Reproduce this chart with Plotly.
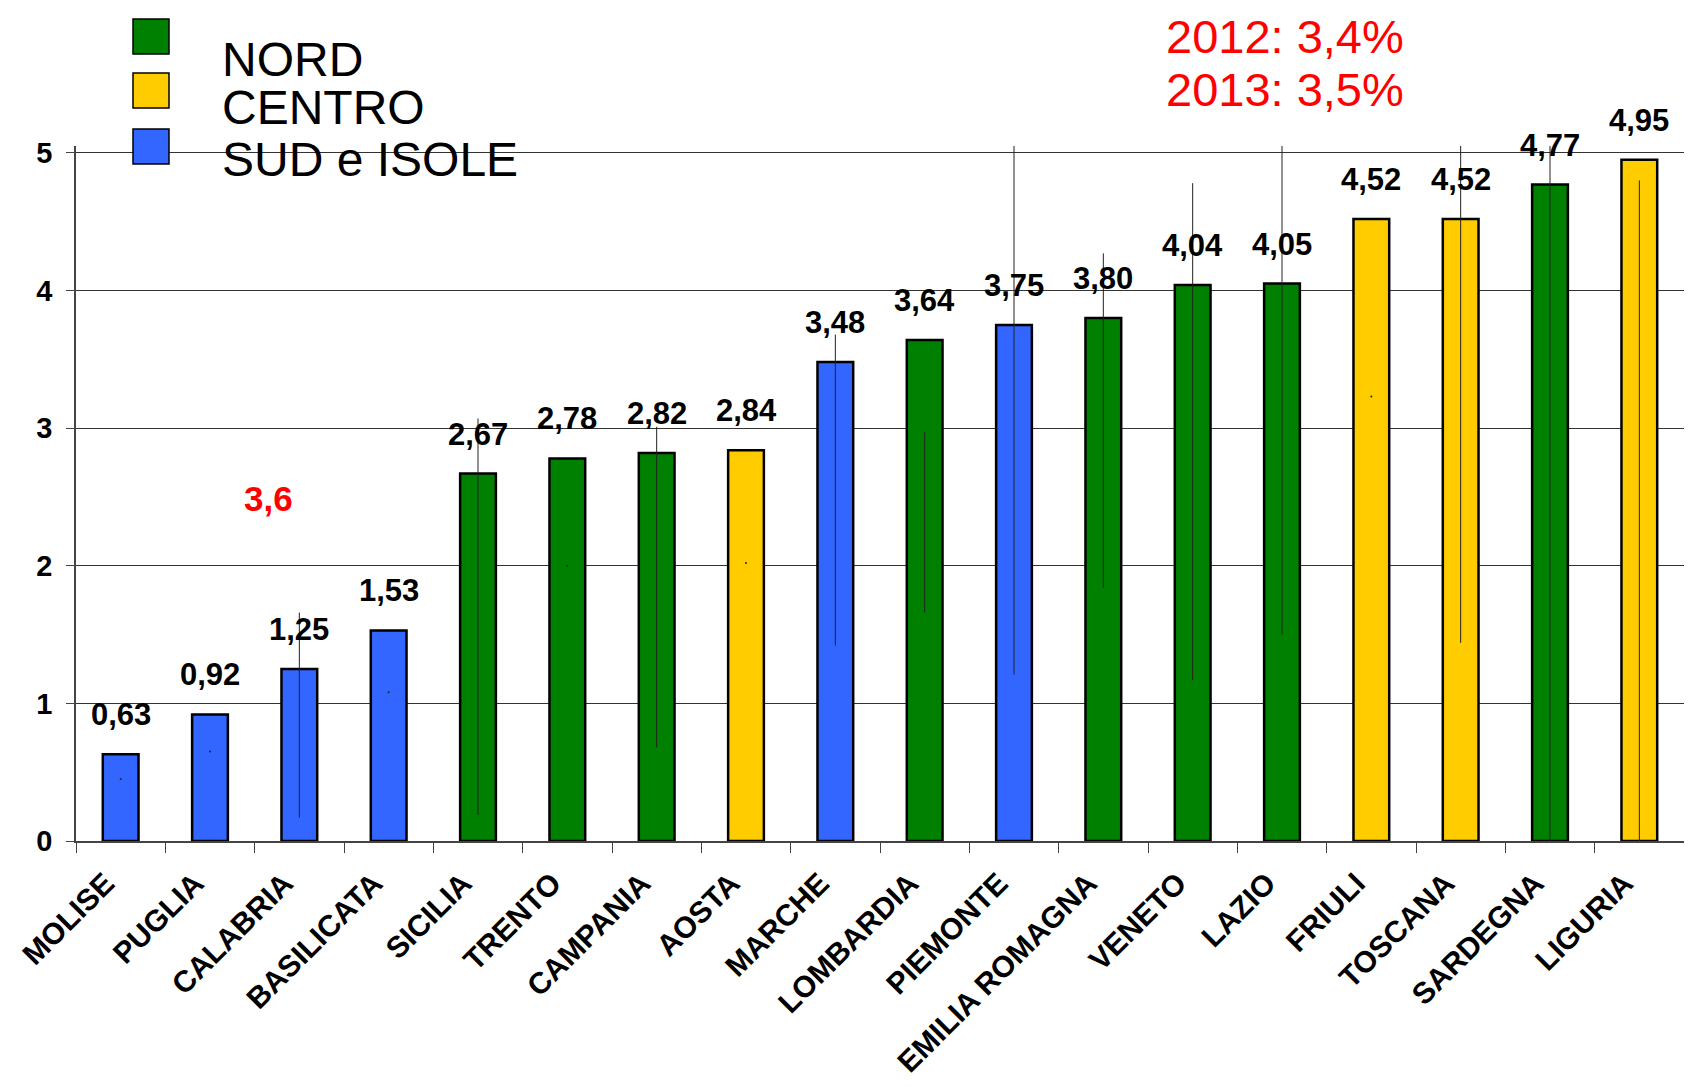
import plotly.graph_objects as go

regions = ["MOLISE", "PUGLIA", "CALABRIA", "BASILICATA", "SICILIA", "TRENTO",
           "CAMPANIA", "AOSTA", "MARCHE", "LOMBARDIA", "PIEMONTE", "EMILIA ROMAGNA",
           "VENETO", "LAZIO", "FRIULI", "TOSCANA", "SARDEGNA", "LIGURIA"]
values = [0.63, 0.92, 1.25, 1.53, 2.67, 2.78, 2.82, 2.84, 3.48, 3.64, 3.75, 3.80,
          4.04, 4.05, 4.52, 4.52, 4.77, 4.95]
groups = ["SUD", "SUD", "SUD", "SUD", "NORD", "NORD", "NORD", "CENTRO", "SUD", "NORD",
          "SUD", "NORD", "NORD", "NORD", "CENTRO", "CENTRO", "NORD", "CENTRO"]
# thin vertical range lines drawn through the bars (low, high)
range_lo = [0.45, 0.65, 0.17, 1.08, 0.19, 2.00, 0.68, 2.02, 1.42, 1.66, 1.21, 1.84,
            1.17, 1.50, 3.23, 1.44, 0.00, 0.00]
range_hi = [0.45, 0.65, 1.66, 1.08, 3.07, 2.00, 3.01, 2.02, 3.68, 2.97, 5.05, 4.27,
            4.78, 5.05, 3.23, 5.05, 5.05, 4.80]
legend_names = ["NORD", "CENTRO", "SUD e ISOLE"]
legend_keys = ["NORD", "CENTRO", "SUD"]
colors = {"NORD": "#008000", "CENTRO": "#FFCC00", "SUD": "#3366FF"}
notes = ["2012: 3,4%", "2013: 3,5%"]
center_note = "3,6"
y_ticks = [0, 1, 2, 3, 4, 5]

PAGE_W, PAGE_H = 1692, 1087
OFF = 8  # default page body margin
W, H = PAGE_W - 2 * OFF, PAGE_H - 2 * OFF  # figure fits the window exactly
# desired plot area in page pixels
P_LEFT, P_RIGHT, P_TOP, P_BOTTOM = 76, PAGE_W - OFF, 146, 841
ML = P_LEFT - OFF
MR = (OFF + W) - P_RIGHT
MT = P_TOP - OFF
MB = (OFF + H) - P_BOTTOM
PW, PH = W - ML - MR, H - MT - MB

def px(x):  # page pixel -> paper
    return (x - P_LEFT) / PW

def py(y):
    return (P_BOTTOM - y) / PH

FONT = "Liberation Sans, Arial, sans-serif"

fig = go.Figure()
fig.add_trace(go.Bar(
    x=regions, y=values,
    marker=dict(color=[colors[g] for g in groups], line=dict(color="black", width=2.5)),
    showlegend=False, hoverinfo="skip",
))

lx, ly = [], []
dx, dy = [], []
for r, lo, hi in zip(regions, range_lo, range_hi):
    if hi > lo:
        lx += [r, r, None]
        ly += [lo, hi, None]
    else:
        dx.append(r)
        dy.append(lo)
fig.add_trace(go.Scatter(x=lx, y=ly, mode="lines", line=dict(color="#222222", width=1),
                         showlegend=False, hoverinfo="skip"))
fig.add_trace(go.Scatter(x=dx, y=dy, mode="markers", marker=dict(color="#222222", size=2),
                         showlegend=False, hoverinfo="skip"))

for r, v in zip(regions, values):
    fig.add_annotation(x=r, y=v, text=f"{v:.2f}".replace(".", ","), showarrow=False,
                       yanchor="bottom", yshift=20,
                       font=dict(family=FONT, size=31, color="black", weight="bold"))

# legend swatches and labels
sq_tops = [19, 73, 129]
text_centers = [59, 108, 160]
for key, name, top, tc in zip(legend_keys, legend_names, sq_tops, text_centers):
    fig.add_shape(type="rect", xref="paper", yref="paper",
                  x0=px(133), x1=px(169), y0=py(top + 35), y1=py(top),
                  fillcolor=colors[key], line=dict(color="black", width=1.5))
    fig.add_annotation(xref="paper", yref="paper", x=px(220), y=py(tc), text=name,
                       showarrow=False, xanchor="left", yanchor="middle",
                       font=dict(family=FONT, size=48, color="black"))

for note, cy in zip(notes, [36, 90]):
    fig.add_annotation(xref="paper", yref="paper", x=px(1164), y=py(cy), text=note,
                       showarrow=False, xanchor="left", yanchor="middle",
                       font=dict(family=FONT, size=47, color="#FF0000"))

fig.add_annotation(xref="paper", yref="paper", x=px(268), y=py(498), text=center_note,
                   showarrow=False, xanchor="center", yanchor="middle",
                   font=dict(family=FONT, size=35, color="#FF0000", weight="bold"))

fig.update_layout(
    width=W, height=H,
    margin=dict(l=ML, r=MR, t=MT, b=MB, autoexpand=False),
    plot_bgcolor="white", paper_bgcolor="white",
    bargap=0.6,
    showlegend=False,
    font=dict(family=FONT, color="black"),
)
fig.update_xaxes(
    type="category", range=[-0.5, len(regions) - 0.5], automargin=False,
    tickangle=-45, tickson="boundaries",
    ticks="outside", ticklen=10, tickcolor="#444444",
    showline=True, linecolor="#444444", linewidth=1.5,
    showgrid=False, ticklabelstandoff=11, ticklabelshift=-15,
    tickfont=dict(family=FONT, size=30, color="black", weight="bold"),
)
fig.update_yaxes(
    range=[0, 5.05], tickvals=y_ticks, ticktext=[str(t) for t in y_ticks],
    automargin=False,
    ticks="outside", ticklen=8, tickcolor="#444444",
    showline=True, linecolor="#444444", linewidth=1.5,
    showgrid=True, gridcolor="#333333", gridwidth=1,
    zeroline=False, ticklabelstandoff=8,
    tickfont=dict(family=FONT, size=29, color="black", weight="bold"),
)

fig.write_html("out.html")
